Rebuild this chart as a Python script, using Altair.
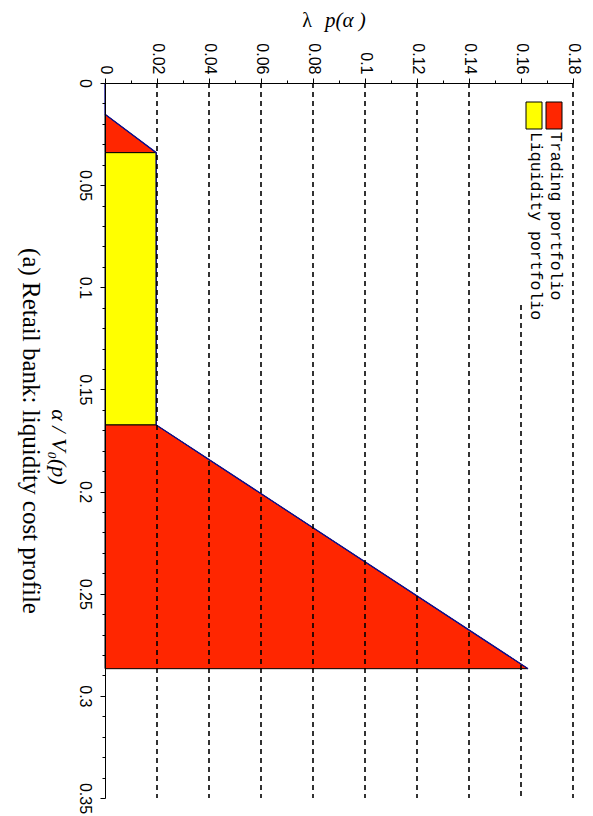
import altair as alt
import pandas as pd

# Liquidity cost profile of the retail bank (breakpoints of the piecewise-linear curve)
alpha_pts = [0.0, 0.0153, 0.0341, 0.1674, 0.2867]
lambda_pts = [0.0, 0.0, 0.0197, 0.0197, 0.1627]

legend_labels = ["Trading portfolio", "Liquidity portfolio"]
legend_colors = ["#FF2600", "#FFFF00"]

lambda_ticks = [round(i * 0.01, 2) for i in range(19)]
alpha_ticks = [round(i * 0.01, 2) for i in range(36)]
grid_vals = [0.02, 0.04, 0.06, 0.08, 0.10, 0.12, 0.14, 0.18]
legend_hidden_grid = [0.16]   # grid line partly covered by the legend box

caption = "(a) Retail bank: liquidity cost profile"
x_title = "α  / V₀(p)"

a, l = alpha_pts, lambda_pts
# Each shaded region, described along the lambda direction:
# lambda, alpha on the curve side, alpha at the far edge of the region
regions = [
    ("Trading portfolio", [(l[1], a[1], a[2]), (l[2], a[2], a[2])]),
    ("Liquidity portfolio", [(l[1], a[2], a[3]), (l[2], a[2], a[3])]),
    ("Trading portfolio", [(l[1], a[3], a[4]), (l[3], a[3], a[4]), (l[4], a[4], a[4])]),
]

curve_df = pd.DataFrame({"alpha": alpha_pts, "lam": lambda_pts})
one = pd.DataFrame({"k": [0]})

xscale = alt.Scale(domain=[0, 0.18], nice=False, zero=True)
yscale = alt.Scale(domain=[0, 0.35], nice=False, reverse=True)

major_x = "round(datum.value*100) % 2 == 0"

xaxis = alt.Axis(
    orient="top", values=lambda_ticks, title=None, grid=False, zindex=1,
    labelExpr=major_x + " ? '' + round(datum.value*100)/100 : ''",
    labelAngle=90, labelAlign="right", labelBaseline="middle",
    labelFont="Liberation Sans", labelFontSize=16, labelColor="black",
    labelPadding=4, labelFlush=False, labelOverlap=False,
    tickColor="black", domainColor="black", tickWidth=1, domainWidth=1,
    tickSize={"condition": {"test": major_x, "value": 5}, "value": 3},
)
yaxis = alt.Axis(
    orient="left", values=alpha_ticks, title=None, grid=False, zindex=1,
    labelExpr="round(datum.value*100) % 5 == 0 ? '' + round(datum.value*100)/100 : ''",
    labelAngle=90, labelAlign="center", labelBaseline="top",
    labelFont="Liberation Sans", labelFontSize=16, labelColor="black",
    labelPadding=8, labelFlush=False, labelOverlap=False,
    tickColor="black", domainColor="black", tickWidth=1, domainWidth=1,
    tickSize={"condition": {"test": "round(datum.value*100) % 5 == 0", "value": 5}, "value": 3},
)

Y = alt.Y("alpha:Q", scale=yscale, axis=yaxis)
X = alt.X("lam:Q", scale=xscale, axis=xaxis)
color_of = dict(zip(legend_labels, legend_colors))

area_layers = []
for part, pts in regions:
    reg_df = pd.DataFrame(pts, columns=["lam", "alpha", "alpha_end"])
    area_layers.append(
        alt.Chart(reg_df).mark_area(
            orient="vertical", fill=color_of[part], fillOpacity=1,
            stroke="black", strokeWidth=1, interpolate="linear"
        ).encode(
            x=X,
            y=alt.Y("alpha:Q", scale=yscale, axis=yaxis, stack=None),
            y2="alpha_end:Q",
        )
    )

curve = alt.Chart(curve_df).mark_line(color="#0d0d90", strokeWidth=1.3).encode(
    y=Y, x=X, order=alt.Order("alpha:Q"),
)

# Dashed grid over the shaded regions, spanning the full alpha range
grid = alt.Chart(pd.DataFrame({"g": grid_vals})).mark_rule(
    strokeDash=[5, 4], color="black", strokeWidth=1.6
).encode(
    x=alt.X("g:Q", scale=xscale, axis=xaxis),
    y=alt.Y(datum=0, scale=yscale, axis=yaxis),
    y2=alt.Y2(datum=0.35),
)
# Grid line that runs below the legend box only
hidden_grid = alt.Chart(pd.DataFrame({"g": legend_hidden_grid})).mark_rule(
    strokeDash=[5, 4], color="black", strokeWidth=1.6
).encode(
    x=alt.X("g:Q", scale=xscale, axis=xaxis),
    y=alt.value(222), y2=alt.value(715),
)

# Legend (rotated with the rest of the figure)
legend_layers = []
for j, (lab, col) in enumerate(zip(legend_labels, legend_colors)):
    x0 = 441 - 20 * j
    sw = alt.Chart(one).mark_rect(fill=col, stroke="black", strokeWidth=1).encode(
        x=alt.value(x0), x2=alt.value(x0 + 16), y=alt.value(19), y2=alt.value(46)
    )
    tx = alt.Chart(pd.DataFrame({"t": [lab]})).mark_text(
        angle=90, align="left", baseline="alphabetic",
        font="Liberation Mono", fontSize=16.5, color="black"
    ).encode(x=alt.value(x0 + 5), y=alt.value(49), text="t:N")
    legend_layers += [sw, tx]

title_lambda = alt.Chart(pd.DataFrame({"t": ["λ"]})).mark_text(
    align="center", baseline="alphabetic", font="Liberation Serif", fontSize=20, color="black"
).encode(x=alt.value(202), y=alt.value(-56), text="t:N")
title_lambda_arg = alt.Chart(pd.DataFrame({"t": ["p(α )"]})).mark_text(
    align="left", baseline="alphabetic", font="Liberation Serif", fontStyle="italic",
    fontSize=21, color="black"
).encode(x=alt.value(220), y=alt.value(-56), text="t:N")

title_alpha = alt.Chart(pd.DataFrame({"t": [x_title]})).mark_text(
    angle=90, align="center", baseline="alphabetic", font="Liberation Serif",
    fontStyle="italic", fontSize=22, color="black"
).encode(x=alt.value(-53), y=alt.value(364), text="t:N")

caption_text = alt.Chart(pd.DataFrame({"t": [caption]})).mark_text(
    angle=90, align="center", baseline="alphabetic", font="Liberation Serif",
    fontSize=25, color="black"
).encode(x=alt.value(-82), y=alt.value(348), text="t:N")

chart = alt.layer(
    *area_layers, curve, *legend_layers,
    title_lambda, title_lambda_arg, title_alpha, caption_text,
    grid, hidden_grid
).properties(
    width=468, height=715,
    padding={"left": 105, "top": 83, "right": 20, "bottom": 18},
    autosize=alt.AutoSizeParams(type="none"),
    background="white",
).configure_view(strokeWidth=0)

chart.save("out.html", embed_options={"renderer": "svg", "actions": False})
